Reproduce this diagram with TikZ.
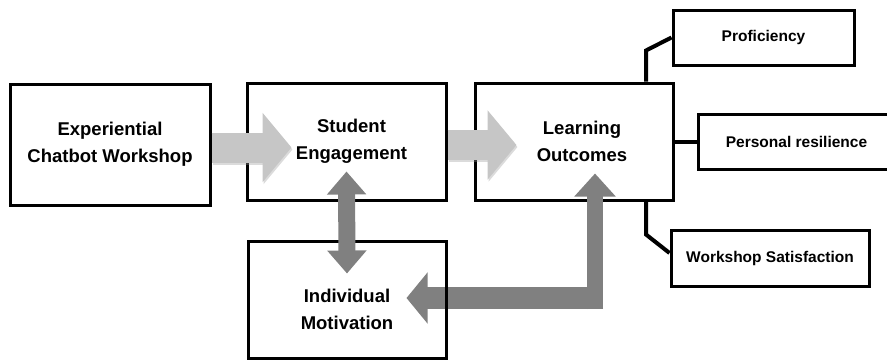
\documentclass[tikz,border=0pt]{standalone}
\usepackage{fontspec}
\setmainfont{Liberation Sans}
\usetikzlibrary{arrows.meta}
\pgfdeclarelayer{front}
\pgfsetlayers{main,front}
\begin{document}
\begin{tikzpicture}[x=1pt,y=1pt]
		\tikzset{box/.style = {draw, line width=3pt, inner sep=0pt}}
		\tikzset{boxtext/.style = {font=\bfseries\fontsize{18.5}{27}\selectfont, align=center}}
		\tikzset{smallbox/.style = {box, minimum height=55pt, font=\bfseries\fontsize{15.5}{18}\selectfont}}
		\tikzset{link/.style = {line width=4pt}}
		\tikzset{broad/.style = {draw=gray!45, line width=30pt, -{Triangle[width=68pt,length=29pt]}}}
		\tikzset{broadshadow/.style = {broad, draw=gray!80, opacity=.35, transform canvas={shift={(1pt,-2pt)}}}}
		\tikzset{heavy/.style = {draw=gray}}
		\useasboundingbox (0,0) rectangle (887,360);
		\node[box, minimum width=200pt, minimum height=121pt, boxtext] (expt) at (110,215.5) {Experiential\\Chatbot Workshop};
		\node[box, minimum width=199pt, minimum height=117pt, label={[boxtext, xshift=5pt]center:Student\\Engagement}] (engage) at (346.5,218.5) {};
		\node[box, minimum width=198pt, minimum height=117pt, label={[boxtext, xshift=8pt]center:Learning\\Outcomes}] (outc) at (574,218.5) {};
		\node[smallbox, minimum width=181pt] (prof) at (763.5,322.5) {Proficiency};
		\node[smallbox, minimum width=192pt] (resil) at (794,218.5) {\hspace*{5pt}Personal resilience};
		\node[smallbox, minimum width=198pt, minimum height=56pt] (satis) at (770,102) {Workshop Satisfaction};
		\begin{pgfonlayer}{front}
		\node[box, minimum width=198pt, minimum height=117pt, label={[boxtext, yshift=-10pt]center:Individual\\Motivation}] (motiv) at (347,60.5) {};
		\end{pgfonlayer}
		\draw[link] ([xshift=72pt]outc.north) -- ++(0,31) -- (prof.west);
		\draw[link] (outc.east) -- (resil.west);
		\draw[link] ([xshift=72pt]outc.south) -- ++(0,-33) -- ([yshift=5pt]satis.west);
		\draw[broadshadow] ([yshift=-3pt]expt.east) -- ([xshift=46pt,yshift=-6pt]engage.west);
		\draw[broad] ([yshift=-3pt]expt.east) -- ([xshift=46pt,yshift=-6pt]engage.west);
		\draw[broadshadow] ([yshift=-3.5pt]engage.east) -- ([xshift=43pt,yshift=-3.5pt]outc.west);
		\draw[broad] ([yshift=-3.5pt]engage.east) -- ([xshift=43pt,yshift=-3.5pt]outc.west);
		\coordinate (elbow) at (603,51);
		\draw[heavy, line width=16pt, -{Triangle[width=40pt,length=23pt]}] ([xshift=-8pt]elbow) -- ([xshift=21pt,yshift=28pt]outc.south);
		\draw[heavy, line width=22pt, -{Triangle[width=50pt,length=21pt]}] ([yshift=11pt]elbow) -- ([xshift=-41pt,yshift=1.5pt]motiv.east);
		\begin{pgfonlayer}{front}
		\draw[heavy, line width=17pt, {Triangle[width=38pt,length=23pt]}-{Triangle[width=38pt,length=23pt]}] ([yshift=30pt]engage.south) -- ([yshift=-34pt]motiv.north);
		\end{pgfonlayer}
	\end{tikzpicture}
\end{document}
